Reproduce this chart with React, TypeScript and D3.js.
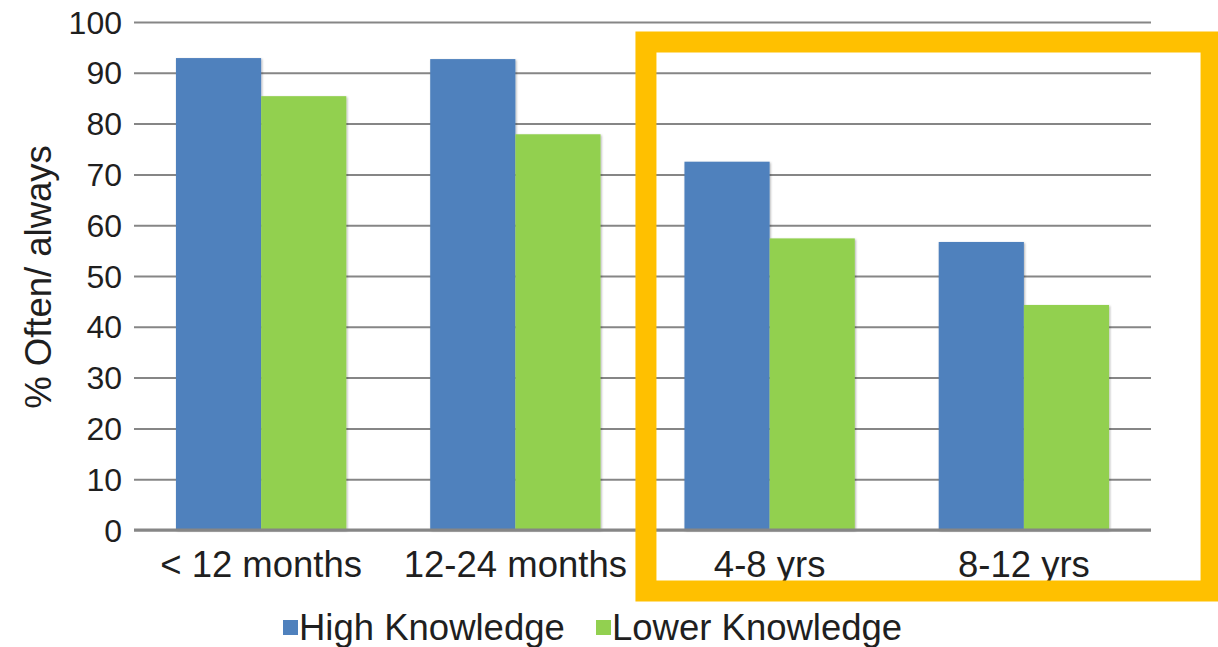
import { useEffect, useRef } from 'react'
import * as d3 from 'd3'

const WIDTH = 1218
const HEIGHT = 647
const FONT = '"Liberation Sans", Arial, sans-serif'

const CATEGORIES = ['< 12 months', '12-24 months', '4-8 yrs', '8-12 yrs']
const HIGH_KNOWLEDGE = [92.9, 92.7, 72.5, 56.7]
const LOWER_KNOWLEDGE = [85.4, 77.9, 57.4, 44.3]
const Y_TICKS = [0, 10, 20, 30, 40, 50, 60, 70, 80, 90, 100]

const SERIES = [
  { key: 'high', label: 'High Knowledge', color: '#4F81BD', values: HIGH_KNOWLEDGE },
  { key: 'lower', label: 'Lower Knowledge', color: '#92D050', values: LOWER_KNOWLEDGE },
]

// highlighted categories (yellow frame)
const HIGHLIGHT = ['4-8 yrs', '8-12 yrs']

export default function App() {
  const svgRef = useRef<SVGSVGElement>(null)

  useEffect(() => {
    const svg = d3.select(svgRef.current)
    svg.selectAll('*').remove()

    const left = 134
    const right = 1151
    const x = d3.scaleBand<string>()
      .domain(CATEGORIES)
      .range([left, right])
      .paddingInner(0.33)
      .paddingOuter(0.165)
    const xs = d3.scaleBand<string>()
      .domain(SERIES.map(s => s.key))
      .range([0, x.bandwidth()])
    const y = d3.scaleLinear([0, 100], [530, 22])

    // ── Grid ──────────────────────────────────────────────────────────────
    svg.append('g')
      .attr('transform', `translate(${left},0)`)
      .call(d3.axisLeft(y).tickValues(Y_TICKS).tickSize(-(right - left)).tickFormat(() => ''))
      .call(ag => ag.select('.domain').remove())
      .call(ag => ag.selectAll('.tick line')
        .attr('stroke', '#868686').attr('stroke-width', 2))

    // tick labels
    svg.append('g')
      .selectAll('text')
      .data(Y_TICKS)
      .join('text')
      .attr('x', 122).attr('y', d => y(d))
      .attr('dy', '0.36em')
      .attr('text-anchor', 'end')
      .attr('font-family', FONT).attr('font-size', 32).attr('fill', '#1f1f1f')
      .text(d => d)

    // ── Bars ──────────────────────────────────────────────────────────────
    const shadow = svg.append('defs').append('filter')
      .attr('id', 'bar-shadow').attr('x', '-10%').attr('y', '-10%')
      .attr('width', '120%').attr('height', '120%')
    shadow.append('feDropShadow')
      .attr('dx', 1).attr('dy', 1).attr('stdDeviation', 1)
      .attr('flood-color', '#000').attr('flood-opacity', 0.3)

    SERIES.forEach(s => {
      svg.append('g')
        .attr('filter', 'url(#bar-shadow)')
        .selectAll('rect')
        .data(CATEGORIES)
        .join('rect')
        .attr('x', (c: string) => x(c)! + xs(s.key)!)
        .attr('y', (_: string, i: number) => y(s.values[i]))
        .attr('width', xs.bandwidth())
        .attr('height', (_: string, i: number) => y(0) - y(s.values[i]))
        .attr('fill', s.color)
    })

    // baseline
    svg.append('line')
      .attr('x1', left).attr('x2', right)
      .attr('y1', y(0)).attr('y2', y(0))
      .attr('stroke', '#868686').attr('stroke-width', 3)

    // category labels
    svg.append('g')
      .selectAll('text')
      .data(CATEGORIES)
      .join('text')
      .attr('x', (c: string) => x(c)! + x.bandwidth() / 2)
      .attr('y', 577)
      .attr('text-anchor', 'middle')
      .attr('font-family', FONT).attr('font-size', 36.5).attr('fill', '#1f1f1f')
      .text((c: string) => c)

    // axis title
    svg.append('text')
      .attr('transform', 'rotate(-90)')
      .attr('x', -277).attr('y', 51)
      .attr('text-anchor', 'middle')
      .attr('font-family', FONT).attr('font-size', 36.5).attr('fill', '#1f1f1f')
      .text('% Often/ always')

    // ── Legend ────────────────────────────────────────────────────────────
    const legendX = [283, 596]
    SERIES.forEach((s, i) => {
      svg.append('rect')
        .attr('x', legendX[i]).attr('y', 620)
        .attr('width', 15).attr('height', 15)
        .attr('fill', s.color)
      svg.append('text')
        .attr('x', legendX[i] + 16).attr('y', 640)
        .attr('font-family', FONT).attr('font-size', 36.5).attr('fill', '#1f1f1f')
        .text(s.label)
    })

    // ── Highlight frame ───────────────────────────────────────────────────
    const hx0 = x(HIGHLIGHT[0])! - 38.5
    const hx1 = x(HIGHLIGHT[HIGHLIGHT.length - 1])! + x.bandwidth() + 102
    svg.append('rect')
      .attr('x', hx0).attr('y', 42)
      .attr('width', hx1 - hx0).attr('height', 549)
      .attr('fill', 'none')
      .attr('stroke', '#FFC000').attr('stroke-width', 21)
  }, [])

  return (
    <svg
      ref={svgRef}
      width={WIDTH}
      height={HEIGHT}
      style={{ position: 'absolute', left: 0, top: 0, background: '#fff' }}
    />
  )
}
